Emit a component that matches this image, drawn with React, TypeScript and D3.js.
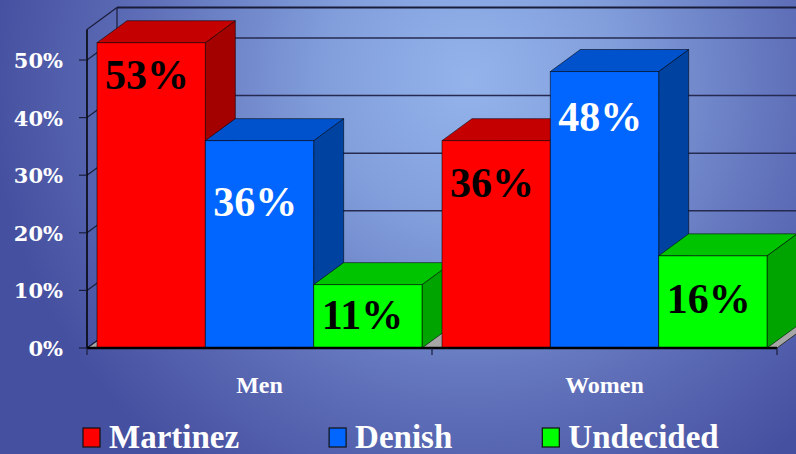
import React, { useEffect, useRef } from "react";
import * as d3 from "d3";

const categories = ["Men", "Women"];
const seriesNames = ["Martinez", "Denish", "Undecided"];
const martinezValues = [53, 36];
const denishValues = [36, 48];
const undecidedValues = [11, 16];
const yTickValues = [0, 10, 20, 30, 40, 50];

const seriesValues = [martinezValues, denishValues, undecidedValues];

// face colours per series: front / top / side, and the label colour
const faces = [
  { front: "#ff0000", top: "#c40000", side: "#a30000", text: "#000000" },
  { front: "#0066ff", top: "#0052cc", side: "#0042a0", text: "#ffffff" },
  { front: "#00ff00", top: "#00c400", side: "#00a400", text: "#000000" },
];

// how far below the top of each bar its label baseline sits (series x category)
const labelDrop = [
  [46, 56],
  [75, 59],
  [44, 57],
];

const W = 796;
const H = 454;
const depthX = 30;
const depthY = 22;
const wallTop = 55.3;

const App = () => {
  const ref = useRef<SVGSVGElement>(null);

  useEffect(() => {
    draw();
  });

  const draw = () => {
    const svg = d3.select(ref.current);
    svg.selectAll("*").remove();

    const y = d3.scaleLinear().domain([0, 60]).range([348, 2.4]);
    const x = d3.scaleBand<string>().domain(categories).range([87, 777]);
    const inner = d3
      .scaleBand<string>()
      .domain(seriesNames)
      .range([10, x.bandwidth() - 10]);

    const defs = svg.append("defs");
    const grad = defs
      .append("radialGradient")
      .attr("id", "bg")
      .attr("gradientUnits", "userSpaceOnUse")
      .attr("cx", 470)
      .attr("cy", 80)
      .attr("r", 480);
    [
      [0, "#94b3eb"],
      [0.3, "#829fdc"],
      [0.7, "#5d6db7"],
      [1, "#4650a0"],
    ].forEach(([o, c]) =>
      grad.append("stop").attr("offset", o as number).attr("stop-color", c as string)
    );

    svg.append("rect").attr("width", W).attr("height", H).attr("fill", "url(#bg)");

    const x0 = x.range()[0];
    const x1 = x.range()[1];
    const yBase = y(0);
    const yTopV = y(wallTop);

    // floor
    svg
      .append("polygon")
      .attr(
        "points",
        [
          [x0, yBase],
          [x1, yBase],
          [x1 + depthX, yBase - depthY],
          [x0 + depthX, yBase - depthY],
        ].join(" ")
      )
      .attr("fill", "#a6a6a6")
      .attr("stroke", "#333");

    // back wall gridlines and side wall lines
    const grid = svg.append("g");
    yTickValues.forEach((v) => {
      grid
        .append("line")
        .attr("x1", x0 + depthX)
        .attr("x2", x1 + depthX)
        .attr("y1", y(v) - depthY)
        .attr("y2", y(v) - depthY)
        .attr("stroke", "#262a50")
        .attr("stroke-width", 1.5);
      grid
        .append("line")
        .attr("x1", x0)
        .attr("y1", y(v))
        .attr("x2", x0 + depthX)
        .attr("y2", y(v) - depthY)
        .attr("stroke", "#1a1d3a")
        .attr("stroke-width", 1.2);
    });
    grid
      .append("line")
      .attr("x1", x0 + depthX)
      .attr("x2", x1 + depthX)
      .attr("y1", yTopV - depthY)
      .attr("y2", yTopV - depthY)
      .attr("stroke", "#1a1d3a")
      .attr("stroke-width", 2);
    grid
      .append("line")
      .attr("x1", x0)
      .attr("y1", yTopV)
      .attr("x2", x0 + depthX)
      .attr("y2", yTopV - depthY)
      .attr("stroke", "#1a1d3a")
      .attr("stroke-width", 1.2);
    grid
      .append("line")
      .attr("x1", x0 + depthX)
      .attr("x2", x0 + depthX)
      .attr("y1", yTopV - depthY)
      .attr("y2", yBase - depthY)
      .attr("stroke", "#1a1d3a")
      .attr("stroke-width", 1.2);

    // bars, left to right so each front hides the previous side
    const bars = svg.append("g");
    categories.forEach((cat, ci) => {
      seriesNames.forEach((s, si) => {
        const v = seriesValues[si][ci];
        const bx = (x(cat) as number) + (inner(s) as number);
        const bw = inner.bandwidth();
        const by = y(v);
        const f = faces[si];
        const g = bars.append("g").attr("stroke", "rgba(0,0,0,0.55)").attr("stroke-width", 1);
        g.append("polygon")
          .attr(
            "points",
            [
              [bx + bw, by],
              [bx + bw + depthX, by - depthY],
              [bx + bw + depthX, yBase - depthY],
              [bx + bw, yBase],
            ].join(" ")
          )
          .attr("fill", f.side);
        g.append("polygon")
          .attr(
            "points",
            [
              [bx, by],
              [bx + depthX, by - depthY],
              [bx + bw + depthX, by - depthY],
              [bx + bw, by],
            ].join(" ")
          )
          .attr("fill", f.top);
        g.append("rect")
          .attr("x", bx)
          .attr("y", by)
          .attr("width", bw)
          .attr("height", yBase - by)
          .attr("fill", f.front);
        bars
          .append("text")
          .attr("x", bx + 8)
          .attr("y", by + labelDrop[si][ci])
          .attr("font-family", "'Liberation Serif', serif")
          .attr("font-weight", "bold")
          .attr("font-size", 42)
          .attr("fill", f.text)
          .text(v + "%");
      });
    });

    // front axis lines
    svg
      .append("line")
      .attr("x1", x0)
      .attr("x2", x0)
      .attr("y1", yTopV)
      .attr("y2", yBase)
      .attr("stroke", "#000")
      .attr("stroke-width", 1.5);
    svg
      .append("line")
      .attr("x1", x0)
      .attr("x2", x1)
      .attr("y1", yBase)
      .attr("y2", yBase)
      .attr("stroke", "#000")
      .attr("stroke-width", 2.5);

    // y ticks and labels
    yTickValues.forEach((v) => {
      svg
        .append("line")
        .attr("x1", x0 - 8)
        .attr("x2", x0)
        .attr("y1", y(v))
        .attr("y2", y(v))
        .attr("stroke", "#1a1d3a")
        .attr("stroke-width", 1.2);
      svg
        .append("text")
        .attr("x", 63)
        .attr("y", y(v) + 8)
        .attr("text-anchor", "end")
        .attr("font-family", "'DejaVu Serif', serif")
        .attr("font-weight", "bold")
        .attr("font-size", 21)
        .attr("fill", "#fff")
        .text(v + "%");
    });

    // category ticks and labels
    [x0, x0 + x.bandwidth(), x1].forEach((t) => {
      svg
        .append("line")
        .attr("x1", t)
        .attr("x2", t)
        .attr("y1", yBase)
        .attr("y2", yBase + 7)
        .attr("stroke", "#1a1d3a")
        .attr("stroke-width", 1.2);
    });
    categories.forEach((cat) => {
      svg
        .append("text")
        .attr("x", (x(cat) as number) + x.bandwidth() / 2)
        .attr("y", 393)
        .attr("text-anchor", "middle")
        .attr("font-family", "'Liberation Serif', serif")
        .attr("font-weight", "bold")
        .attr("font-size", 24)
        .attr("fill", "#fff")
        .text(cat);
    });

    // legend
    let lx = 83;
    seriesNames.forEach((s, si) => {
      const item = svg.append("g");
      item
        .append("rect")
        .attr("x", lx)
        .attr("y", 428)
        .attr("width", 17)
        .attr("height", 19)
        .attr("fill", faces[si].front)
        .attr("stroke", "#111")
        .attr("stroke-width", 1.2);
      const t = item
        .append("text")
        .attr("x", lx + 26)
        .attr("y", 448)
        .attr("font-family", "'Liberation Serif', serif")
        .attr("font-weight", "bold")
        .attr("font-size", 33)
        .attr("fill", "#fff")
        .text(s);
      const tw = (t.node() as SVGTextElement).getComputedTextLength();
      lx += 26 + tw + 90;
    });
  };

  return (
    <svg
      ref={ref}
      width={W}
      height={H}
      style={{ position: "absolute", left: 0, top: 0, display: "block" }}
    />
  );
};

export default App;
